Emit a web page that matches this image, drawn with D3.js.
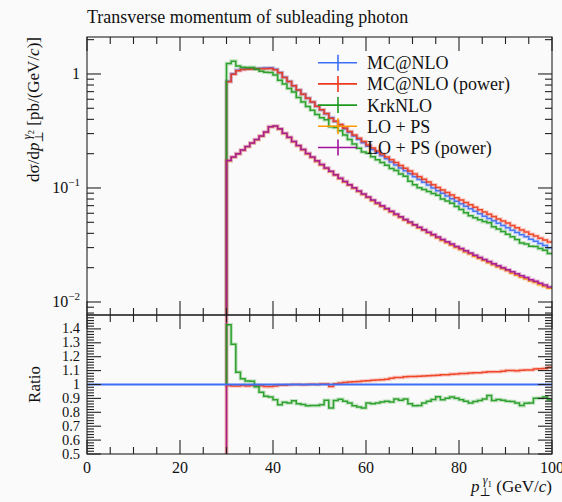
<!DOCTYPE html>
<html>
<head>
<meta charset="utf-8">
<script src="https://cdn.jsdelivr.net/npm/d3@7"></script>
<style>
  html, body { margin: 0; padding: 0; background: #fafafa; }
  svg { display: block; font-family: "Liberation Serif", "DejaVu Serif", serif; }
</style>
</head>
<body>
<div id="chart"></div>
<script>
// bin edges of the histograms, GeV
const binEdges = d3.range(30, 101, 1);

// dsigma/dpT, pb/GeV, one value per bin (30-31, 31-32, ... 99-100)
const mcatnlo = [
  0.862, 1.005, 1.080, 1.100, 1.110, 1.115, 1.118, 1.120, 1.130, 1.132,
  1.100, 1.028, 0.936, 0.859, 0.788, 0.723, 0.665, 0.611, 0.566, 0.521,
  0.483, 0.447, 0.414, 0.383, 0.356, 0.331, 0.3075, 0.2862, 0.2668, 0.2491,
  0.2324, 0.2178, 0.2042, 0.1916, 0.1802, 0.1694, 0.1592, 0.1499, 0.1413, 0.1330,
  0.1256, 0.1186, 0.1121, 0.1060, 0.1002, 0.0947, 0.0898, 0.0852, 0.0806, 0.0764,
  0.0726, 0.0690, 0.0657, 0.0624, 0.0594, 0.0566, 0.0539, 0.0515, 0.0490, 0.0469,
  0.0447, 0.0426, 0.0407, 0.0389, 0.0373, 0.0355, 0.0341, 0.0326, 0.0313, 0.0299
];
const mcatnloPower = [
  0.856, 0.995, 1.069, 1.092, 1.099, 1.107, 1.112, 1.109, 1.113, 1.115,
  1.089, 1.023, 0.931, 0.857, 0.788, 0.723, 0.664, 0.611, 0.567, 0.521,
  0.485, 0.449, 0.408, 0.385, 0.360, 0.336, 0.313, 0.2919, 0.2727, 0.2553,
  0.2387, 0.2243, 0.2109, 0.1983, 0.1871, 0.1770, 0.1672, 0.1574, 0.1491, 0.1406,
  0.1329, 0.1257, 0.1190, 0.1127, 0.1067, 0.1010, 0.0961, 0.0912, 0.0866, 0.0822,
  0.0783, 0.0745, 0.0711, 0.0677, 0.0644, 0.0616, 0.0588, 0.0562, 0.0535, 0.0514,
  0.0492, 0.0469, 0.0447, 0.0429, 0.0412, 0.0392, 0.0379, 0.0363, 0.0349, 0.0336
];
const krknlo = [
  1.233, 1.296, 1.176, 1.145, 1.137, 1.142, 1.099, 1.057, 1.034, 1.030,
  0.980, 0.879, 0.816, 0.745, 0.696, 0.623, 0.569, 0.518, 0.480, 0.442,
  0.413, 0.396, 0.344, 0.339, 0.318, 0.291, 0.2666, 0.2427, 0.2236, 0.2070,
  0.2015, 0.1877, 0.1770, 0.1675, 0.1584, 0.1481, 0.1426, 0.1328, 0.1266, 0.1146,
  0.1065, 0.1006, 0.0972, 0.0932, 0.0893, 0.0863, 0.0800, 0.0768, 0.0734, 0.0688,
  0.0647, 0.0607, 0.0570, 0.0548, 0.0526, 0.0507, 0.0496, 0.0456, 0.0437, 0.0416,
  0.0393, 0.0374, 0.0353, 0.0330, 0.0323, 0.0308, 0.0307, 0.0294, 0.0285, 0.0266
];
const loPs = [
  0.173, 0.186, 0.199, 0.214, 0.230, 0.247, 0.265, 0.285, 0.308, 0.343,
  0.348, 0.328, 0.300, 0.277, 0.255, 0.235, 0.216, 0.199, 0.185, 0.171,
  0.159, 0.1485, 0.1386, 0.1292, 0.1208, 0.1131, 0.1059, 0.0993, 0.0933, 0.0877,
  0.0825, 0.0773, 0.0729, 0.0688, 0.0650, 0.0615, 0.0581, 0.0551, 0.0522, 0.0494,
  0.0470, 0.0446, 0.0425, 0.0404, 0.0384, 0.0365, 0.0346, 0.0331, 0.0315, 0.0300,
  0.0288, 0.0275, 0.0263, 0.0251, 0.0241, 0.0231, 0.0221, 0.0212, 0.0203, 0.0196,
  0.0188, 0.0179, 0.0172, 0.0165, 0.0159, 0.0153, 0.0148, 0.0142, 0.0137, 0.0132
];
const loPsPower = [
  0.174, 0.187, 0.200, 0.215, 0.231, 0.248, 0.266, 0.286, 0.310, 0.345,
  0.350, 0.330, 0.302, 0.278, 0.256, 0.236, 0.218, 0.201, 0.187, 0.173,
  0.161, 0.150, 0.140, 0.1305, 0.122, 0.1142, 0.107, 0.1003, 0.0942, 0.0886,
  0.0833, 0.0785, 0.0740, 0.0698, 0.0660, 0.0624, 0.0590, 0.0559, 0.0530, 0.0502,
  0.0477, 0.0453, 0.0431, 0.0410, 0.0390, 0.0371, 0.0354, 0.0338, 0.0322, 0.0307,
  0.0294, 0.0281, 0.0269, 0.0257, 0.0246, 0.0236, 0.0226, 0.0217, 0.0208, 0.0200,
  0.0192, 0.0184, 0.0177, 0.0170, 0.0164, 0.0157, 0.0152, 0.0146, 0.0141, 0.01356
];

const seriesNames = ["MC@NLO", "MC@NLO (power)", "KrkNLO", "LO + PS", "LO + PS (power)"];
const seriesColors = ["#3d6ef5", "#ee3a1c", "#1f9a1f", "#ff9900", "#a0139c"];
const seriesValues = [mcatnlo, mcatnloPower, krknlo, loPs, loPsPower];

const xTickLabels = [0, 20, 40, 60, 80, 100];
const mainTickLabels = [0.01, 0.1, 1];
const ratioTickLabels = ["0.5", "0.6", "0.7", "0.8", "0.9", "1", "1.1", "1.2", "1.3", "1.4"];

const W = 562, H = 502;
const pLeft = 87, pRight = 552, pTop = 37, pMid = 315, pBottom = 454;
const major = 14, minor = 7;

const svg = d3.select("#chart").append("svg")
  .attr("width", W)
  .attr("height", H);

svg.append("rect").attr("width", W).attr("height", H).attr("fill", "#fafafa");

const x = d3.scaleLinear().domain([0, 100]).range([pLeft, pRight]);
const y = d3.scaleLog().domain([0.00769, 2.11]).range([pMid, pTop]);
const yr = d3.scaleLinear().domain([0.5, 1.5]).range([pBottom, pMid]);

const defs = svg.append("defs");
defs.append("clipPath").attr("id", "clipMain")
  .append("rect").attr("x", pLeft).attr("y", pTop).attr("width", pRight - pLeft).attr("height", pMid - pTop);
defs.append("clipPath").attr("id", "clipRatio")
  .append("rect").attr("x", pLeft).attr("y", pMid).attr("width", pRight - pLeft).attr("height", pBottom - pMid);

// histogram as step line, starting from a value outside the panel at the first edge
function histPoints(vals, startVal) {
  const pts = [[binEdges[0], startVal]];
  vals.forEach((v, i) => pts.push([binEdges[i], v]));
  pts.push([binEdges[binEdges.length - 1], vals[vals.length - 1]]);
  return pts;
}

function drawHist(g, pts, sy, color) {
  const line = d3.line()
    .x(d => x(d[0]))
    .y(d => sy(d[1]))
    .curve(d3.curveStepAfter);
  g.append("path")
    .attr("d", line(pts))
    .attr("fill", "none")
    .attr("stroke", color)
    .attr("stroke-opacity", 0.25)
    .attr("stroke-width", 3.6);
  g.append("path")
    .attr("d", line(pts))
    .attr("fill", "none")
    .attr("stroke", color)
    .attr("stroke-opacity", 0.9)
    .attr("stroke-width", 1.5);
}

// main panel
const gMain = svg.append("g").attr("clip-path", "url(#clipMain)");
seriesValues.forEach((vals, i) => {
  drawHist(gMain, histPoints(vals, 1e-4), y, seriesColors[i]);
});

// ratio panel (relative to MC@NLO)
const gRatio = svg.append("g").attr("clip-path", "url(#clipRatio)");
const ratios = seriesValues.map(vals => vals.map((v, i) => v / mcatnlo[i]));
[3, 4].forEach(i => drawHist(gRatio, histPoints(ratios[i], 2), yr, seriesColors[i]));
[1, 2].forEach(i => drawHist(gRatio, histPoints(ratios[i], 1), yr, seriesColors[i]));
gRatio.append("line")
  .attr("x1", x(0)).attr("x2", x(100))
  .attr("y1", yr(1)).attr("y2", yr(1))
  .attr("stroke", seriesColors[0]).attr("stroke-width", 1.8);

// frames and ticks
const axes = svg.append("g").attr("stroke", "#222").attr("stroke-width", 1.1).attr("fill", "none");
axes.append("rect").attr("x", pLeft).attr("y", pTop).attr("width", pRight - pLeft).attr("height", pMid - pTop);
axes.append("rect").attr("x", pLeft).attr("y", pMid).attr("width", pRight - pLeft).attr("height", pBottom - pMid);

function tick(x1, y1, x2, y2) {
  axes.append("line").attr("x1", x1).attr("y1", y1).attr("x2", x2).attr("y2", y2);
}

d3.range(0, 101, 5).forEach(v => {
  const len = v % 20 === 0 ? major : minor;
  const px = x(v);
  tick(px, pTop, px, pTop + len);
  tick(px, pMid, px, pMid - len);
  tick(px, pMid, px, pMid + len);
  tick(px, pBottom, px, pBottom - len);
});

[-3, -2, -1, 0].forEach(d => {
  d3.range(1, 10).forEach(m => {
    const v = m * Math.pow(10, d);
    if (v < y.domain()[0] || v > y.domain()[1]) return;
    const len = m === 1 ? major : minor;
    tick(pLeft, y(v), pLeft + len, y(v));
    tick(pRight, y(v), pRight - len, y(v));
  });
});

d3.range(25, 75).forEach(k => {
  const v = k * 0.02;
  const len = k % 5 === 0 ? major : minor;
  tick(pLeft, yr(v), pLeft + len, yr(v));
  tick(pRight, yr(v), pRight - len, yr(v));
});

// labels
const txt = svg.append("g").attr("fill", "#111");

txt.append("text")
  .attr("x", pLeft).attr("y", 23)
  .attr("font-size", 18)
  .text("Transverse momentum of subleading photon");

xTickLabels.forEach(v => {
  txt.append("text")
    .attr("x", x(v)).attr("y", 473)
    .attr("text-anchor", "middle")
    .attr("font-size", 16)
    .text(v);
});

mainTickLabels.forEach(v => {
  const t = txt.append("text")
    .attr("x", 80).attr("y", y(v) + 5)
    .attr("text-anchor", "end")
    .attr("font-size", 16);
  if (v === 1) {
    t.text("1");
  } else {
    t.append("tspan").text("10");
    t.append("tspan").attr("dy", -7).attr("font-size", 11).text("\u2212" + Math.round(-Math.log10(v)));
  }
});

ratioTickLabels.forEach(s => {
  txt.append("text")
    .attr("x", 80).attr("y", yr(+s) + 4.5)
    .attr("text-anchor", "end")
    .attr("font-size", 14.5)
    .text(s);
});

// y title, main panel
const yt = txt.append("text")
  .attr("transform", `translate(39,${pTop}) rotate(-90)`)
  .attr("text-anchor", "end")
  .attr("font-size", 17);
yt.append("tspan").text("d\u03c3/d");
yt.append("tspan").attr("font-style", "italic").text("p");
yt.append("tspan").attr("font-size", 12).attr("dy", 4).text("\u22a5");
yt.append("tspan").attr("font-size", 12).attr("dx", -8).attr("dy", -12).attr("font-style", "italic").text("\u03b3");
yt.append("tspan").attr("font-size", 9).attr("dy", 3).text("2");
yt.append("tspan").attr("dy", 5).text(" [pb/(GeV/");
yt.append("tspan").attr("font-style", "italic").text("c");
yt.append("tspan").text(")]");

txt.append("text")
  .attr("transform", `translate(40,${yr(1)}) rotate(-90)`)
  .attr("text-anchor", "middle")
  .attr("font-size", 17)
  .text("Ratio");

// x title
const xt = txt.append("text")
  .attr("x", pRight).attr("y", 492)
  .attr("text-anchor", "end")
  .attr("font-size", 17);
xt.append("tspan").attr("font-style", "italic").text("p");
xt.append("tspan").attr("font-size", 12).attr("dy", 4).text("\u22a5");
xt.append("tspan").attr("font-size", 12).attr("dx", -8).attr("dy", -12).attr("font-style", "italic").text("\u03b3");
xt.append("tspan").attr("font-size", 9).attr("dy", 3).text("1");
xt.append("tspan").attr("dy", 5).text(" (GeV/");
xt.append("tspan").attr("font-style", "italic").text("c");
xt.append("tspan").text(")");

// legend
const legend = svg.append("g");
seriesNames.forEach((name, i) => {
  const ly = 62.7 + i * 21.2;
  legend.append("line")
    .attr("x1", 318).attr("x2", 357).attr("y1", ly).attr("y2", ly)
    .attr("stroke", seriesColors[i]).attr("stroke-width", 1.6);
  legend.append("line")
    .attr("x1", 338).attr("x2", 338).attr("y1", ly - 8).attr("y2", ly + 8)
    .attr("stroke", seriesColors[i]).attr("stroke-width", 1.6);
  legend.append("text")
    .attr("x", 367).attr("y", ly + 6.5)
    .attr("font-size", 18)
    .attr("fill", "#111")
    .text(name);
});
</script>
</body>
</html>
